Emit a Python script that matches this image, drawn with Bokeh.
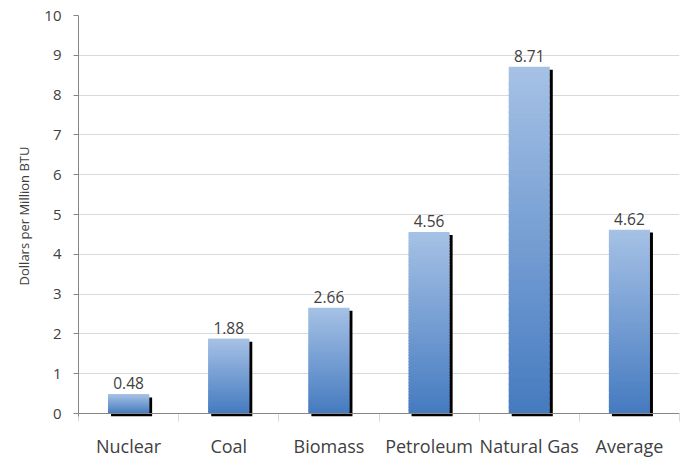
import numpy as np
from bokeh.plotting import figure
from bokeh.models import Range1d, FixedTicker, Span, ColumnDataSource
from bokeh.core.properties import value
from bokeh.embed import file_html
from bokeh.resources import INLINE

categories = ["Nuclear", "Coal", "Biomass", "Petroleum", "Natural Gas", "Average"]
costs = [0.48, 1.88, 2.66, 4.56, 8.71, 4.62]
y_ticks = [0, 1, 2, 3, 4, 5, 6, 7, 8, 9, 10]

FONT = "Open Sans"
TXT = "#404040"
AXIS = "#868686"
GRID = "#D9D9D9"

n = len(categories)
xs = np.arange(n) + 0.5
vals = np.array(costs)

p = figure(frame_width=601, frame_height=401, output_backend="svg", toolbar_location=None,
           x_range=Range1d(0, n), y_range=Range1d(-0.075, 10),
           min_border_left=78, min_border_right=4, min_border_top=15, min_border_bottom=30)
p.outline_line_color = None
p.xgrid.grid_line_color = None
p.ygrid.grid_line_color = GRID
p.ygrid.grid_line_width = 1

# shadows
p.vbar(x=xs + 0.03, top=vals - 0.075, bottom=-0.075, width=0.41,
       fill_color="black", line_color=None)

# gradient bars built from slices
N = 60
bot_c = np.array([70, 123, 192])
top_c = np.array([165, 193, 229])
sx, sb, st, sc = [], [], [], []
for i in range(n):
    v = vals[i]
    for k in range(N):
        f = k / (N - 1)
        c = bot_c + (top_c - bot_c) * f
        sx.append(xs[i])
        sb.append(v * k / N)
        st.append(min(v, v * (k + 1) / N + 0.03))
        sc.append("#%02x%02x%02x" % tuple(int(round(t)) for t in c))
p.vbar(x=sx, bottom=sb, top=st, width=0.41, fill_color=sc, line_color=None)

# value labels
src = ColumnDataSource(dict(x=xs, y=vals, t=["%.2f" % v for v in costs]))
p.text(x="x", y="y", text="t", source=src, text_align="center", text_baseline="alphabetic",
       y_offset=-11, text_font=value(FONT), text_font_size="15.5px", text_color=TXT)

p.add_layout(Span(location=0, dimension="width", line_color=AXIS, line_width=1))

# x axis
xa = p.xaxis[0]
xa.ticker = FixedTicker(ticks=list(xs), minor_ticks=list(range(n + 1)))
xa.major_label_overrides = {float(x): c for x, c in zip(xs, categories)}
xa.axis_line_color = None
xa.major_tick_line_color = None
xa.minor_tick_line_color = GRID
xa.minor_tick_in = 3
xa.minor_tick_out = 5
xa.major_label_text_font = FONT
xa.major_label_text_font_size = "18px"
xa.major_label_text_color = TXT
xa.major_label_standoff = 11

# y axis
ya = p.yaxis[0]
ya.ticker = FixedTicker(ticks=y_ticks)
ya.minor_tick_line_color = None
ya.axis_line_color = AXIS
ya.major_tick_line_color = AXIS
ya.major_tick_in = 0
ya.major_tick_out = 5
ya.major_label_text_font = FONT
ya.major_label_text_font_size = "15px"
ya.major_label_text_color = TXT
ya.major_label_standoff = 12
ya.axis_label = "Dollars per Million BTU"
ya.axis_label_text_font = FONT
ya.axis_label_text_font_size = "13px"
ya.axis_label_text_font_style = "normal"
ya.axis_label_text_color = TXT
ya.axis_label_standoff = 8

open("out.html", "w").write(file_html(p, INLINE))
